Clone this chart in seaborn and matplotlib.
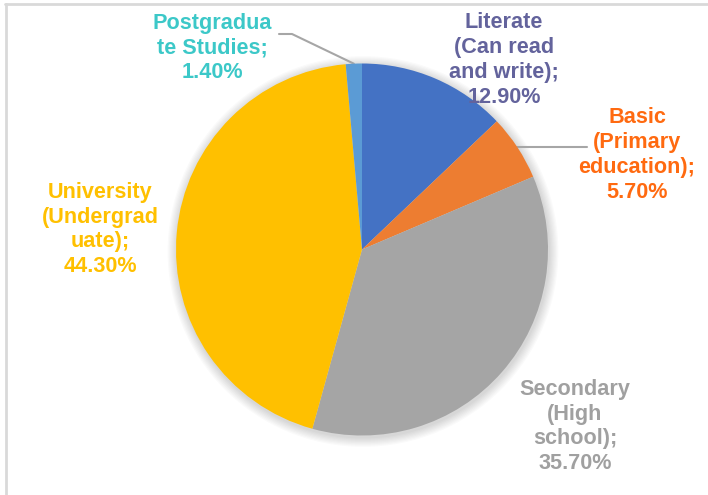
import numpy as np
import matplotlib
matplotlib.use("Agg")
import matplotlib.pyplot as plt
import seaborn as sns
from matplotlib.lines import Line2D
from matplotlib.patches import Circle

# data
categories = ["Literate\n(Can read\nand write)", "Basic\n(Primary\neducation)",
              "Secondary\n(High\nschool)", "University\n(Undergrad\nuate)",
              "Postgradua\nte Studies"]
shares = [12.9, 5.7, 35.7, 44.3, 1.4]
slice_colors = ["#4472C4", "#ED7D31", "#A5A5A5", "#FFC000", "#5B9BD5"]
label_colors = ["#63639C", "#FF6A10", "#A0A0A0", "#FFC000", "#3CC8C8"]

sns.set_theme(style="white")
plt.rcParams["font.family"] = ["Liberation Sans", "DejaVu Sans"]

W, H = 708, 495
fig = plt.figure(figsize=(W / 100, H / 100), dpi=100)
ax = fig.add_axes([0, 0, 1, 1])

cx, cy, r = 362, H - 249.5, 186

# soft shadow behind the pie
for k in range(8):
    ax.add_patch(Circle((cx + 1, cy - 2), r + 1 + k * 1.2, color="black",
                        alpha=0.018, lw=0, zorder=0))

wedges, _ = ax.pie(shares, colors=slice_colors, startangle=90,
                   counterclock=False, center=(cx, cy), radius=r,
                   wedgeprops=dict(linewidth=0))
for w in wedges:
    w.set_zorder(2)

# label positions (pixels, y down)
label_pos = [(504, 60), (637, 155), (575, 426.5), (100, 229.5), (212, 48)]

for i, (name, val) in enumerate(zip(categories, shares)):
    x, y = label_pos[i]
    ax.text(x, H - y, f"{name};\n{val:.2f}%", ha="center", va="center",
            fontsize=15.6, fontweight="bold", color=label_colors[i],
            linespacing=1.24, zorder=3)

# leader lines for the two small slices
def edge_point(idx):
    w = wedges[idx]
    ang = np.deg2rad((w.theta1 + w.theta2) / 2)
    return cx + r * np.cos(ang), cy + r * np.sin(ang)

ex, ey = edge_point(1)
ax.plot([ex, 587], [ey, ey], color="#A6A6A6", lw=1.5, zorder=1)
ex, ey = edge_point(4)
ax.plot([279, 292, ex], [H - 34, H - 34, ey], color="#A6A6A6", lw=1.5, zorder=1)

ax.set_xlim(0, W)
ax.set_ylim(0, H)
ax.set_aspect("auto")
ax.axis("off")

# frame lines (top and left)
fig.add_artist(Line2D([5 / W, 1], [1 - 4 / H, 1 - 4 / H], color="#D9D9D9", lw=2))
fig.add_artist(Line2D([6 / W, 6 / W], [0, 1 - 4 / H], color="#D9D9D9", lw=2))

fig.savefig("out.png", dpi=100, facecolor="white")
